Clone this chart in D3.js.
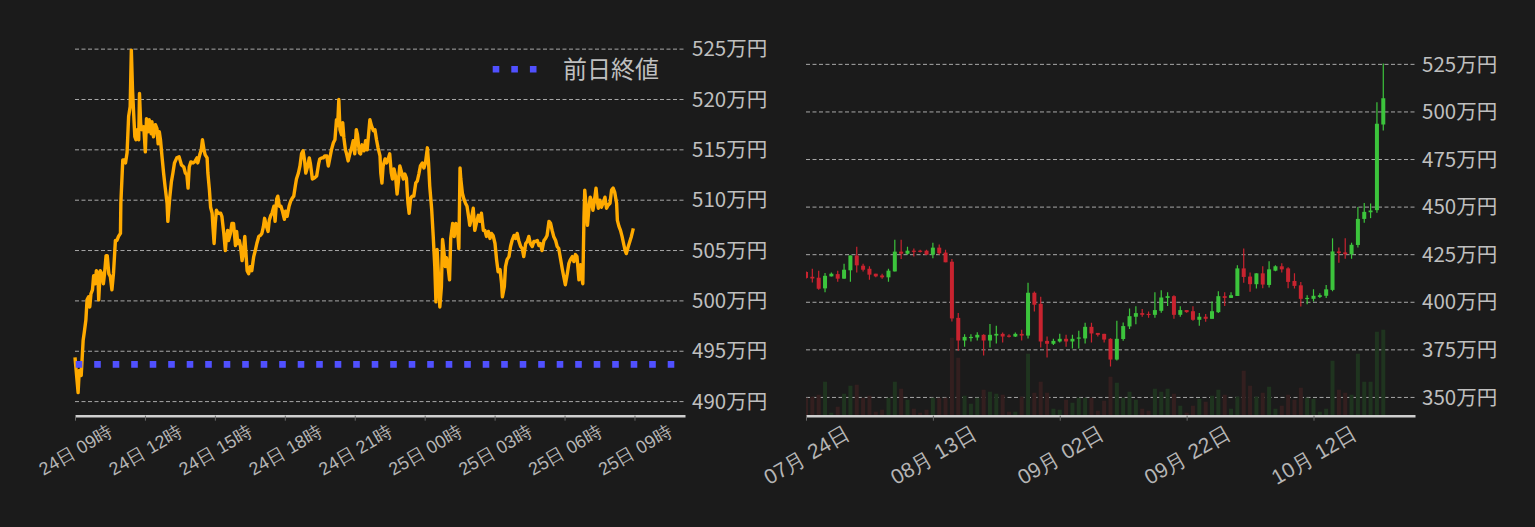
<!DOCTYPE html>
<html><head><meta charset="utf-8">
<script src="https://cdn.jsdelivr.net/npm/d3@7"></script>
<style>
html,body{margin:0;padding:0;background:#1b1b1b;}
svg{display:block;font-family:"Noto Sans CJK JP","Noto Sans",sans-serif;}
</style></head>
<body><svg id="c" width="1535" height="527"></svg>
<script>
// ---------- Left chart data (minutes after 24日 09:00, price in 万円) ----------
const lineMinutes = [0,8,11,16,21,24,28,31,35,38,41,45,48,52,55,59,61,65,69,73,76,80,83,87,91,95,99,104,108,112,117,118,123,127,130,134,138,142,145,148,151,154,157,160,164,166,169,172,177,181,184,188,191,196,198,202,207,211,214,217,220,224,228,232,237,239,244,248,252,256,262,268,274,280,284,288,291,294,298,304,308,314,316,321,325,328,332,335,340,342,346,349,353,355,358,361,364,368,371,375,378,383,387,389,393,395,400,404,408,413,416,419,423,426,430,433,437,440,443,447,451,455,460,464,468,473,477,481,485,488,492,497,500,504,
507,512,515,519,522,526,530,534,539,542,546,551,555,559,563,567,570,575,579,583,587,591,594,599,603,606,611,616,622,627,630,635,639,643,648,652,656,660,665,669,673,676,679,682,686,689,692,696,699,703,708,712,716,720,724,727,732,735,739,744,748,752,756,759,763,768,772,776,780,785,787,790,793,798,802,806,810,814,817,821,825,829,833,836,841,845,849,853,857,860,864,868,872,877,881,885,889,894,898,902,907,910,913,918,922,926,929,932,936,939,943,946,949,953,956,961,964,967,972,976,980,984,988,991,993,997,1001,1005,1009,1014,
1016,1021,1025,1029,1033,1038,1042,1046,1051,1055,1059,1064,1068,1072,1076,1081,1085,1089,1094,1098,1100,1105,1108,1112,1117,1121,1125,1130,1134,1138,1142,1147,1151,1155,1160,1164,1168,1172,1177,1181,1185,1190,1194,1198,1202,1207,1211,1215,1220,1224,1228,1232,1237,1241,1245,1250,1254,1258,1262,1267,1271,1275,1280,1284,1288,1292,1297,1301,1304,1307,1310,1312,1316,1319,1323,1326,1329,1333,1336,1341,1344,1347,1351,1355,1359,1364,1368,1372,1377,1381,1385,1389,1394,1396,1400,1404,1408,1413,1416,1419,1424,1428,1432,1437];
const lineValues = [494.4,490.9,493.1,492.6,496.1,496.9,498.1,500.1,500.4,499.4,500.7,501.1,502.5,501.7,503.0,502.7,500.1,503.0,502.7,501.7,502.7,504.5,504.5,502.7,502.4,501.1,502.7,506.0,506.0,506.4,506.7,509.7,514.0,514.0,513.7,514.7,518.3,519.3,524.9,521.0,518.6,516.3,516.0,517.0,516.0,520.6,517.6,517.0,517.3,514.8,518.1,516.8,518.0,516.6,517.8,516.3,517.5,517.1,515.6,516.8,516.0,514.3,512.7,511.3,509.7,507.9,510.3,511.8,512.7,513.7,514.2,514.3,513.5,513.3,512.7,512.5,511.2,513.3,513.8,513.7,513.8,514.2,513.7,514.5,515.0,516.0,515.0,514.5,514.2,512.7,511.0,509.3,508.7,507.4,505.7,507.7,509.0,508.7,508.7,508.7,508.4,506.7,505.0,506.0,507.0,506.0,506.7,507.7,507.7,505.5,506.9,505.7,506.0,505.4,504.0,504.7,506.4,504.7,503.0,502.7,503.4,503.0,504.4,505.0,505.7,506.4,506.5,506.7,507.4,508.2,507.5,506.9,508.0,508.5,
508.7,509.4,507.9,510.1,510.4,509.4,509.4,508.9,508.1,508.9,508.4,509.4,509.9,510.2,510.4,511.4,512.1,512.7,513.4,514.6,514.9,513.9,512.7,513.4,514.2,513.6,512.1,512.2,512.4,513.6,514.1,514.2,514.2,514.4,514.4,513.4,514.2,515.0,515.7,516.0,518.0,517.4,520.0,517.0,516.5,517.7,516.2,515.0,514.6,513.9,514.7,515.2,515.9,514.6,517.0,516.5,514.7,514.6,515.5,514.9,515.9,515.0,516.7,518.0,517.4,516.9,517.0,516.0,515.2,514.4,512.7,511.7,513.4,514.1,513.7,514.1,514.6,512.7,512.1,513.1,512.4,510.6,512.1,513.4,512.7,512.1,512.6,512.2,509.7,508.7,510.2,510.4,510.4,511.7,511.9,512.6,513.4,513.7,513.2,513.7,515.2,513.7,511.4,509.1,506.4,503.4,499.9,505.1,502.1,499.4,501.4,506.1,505.1,503.4,504.3,503.1,502.1,506.2,507.7,506.4,507.7,507.4,505.2,513.2,512.1,510.7,510.1,509.7,509.4,508.1,
507.5,508.3,509.2,507.0,507.7,508.5,507.9,508.7,507.0,507.0,506.4,506.9,506.2,506.7,506.5,505.7,504.1,502.9,503.1,501.7,500.4,501.4,503.4,504.1,504.4,505.4,506.0,506.5,506.2,506.7,506.0,505.4,505.2,504.4,505.7,505.9,506.4,505.7,505.4,505.9,505.9,506.0,505.5,505.7,505.0,506.0,506.2,506.5,507.9,507.7,507.0,506.4,506.0,505.4,505.2,504.1,503.2,502.4,501.6,502.7,503.7,504.1,504.4,503.9,504.6,504.4,502.1,503.6,502.4,501.7,508.3,511.0,509.2,507.5,509.3,510.3,510.0,509.0,509.7,511.2,510.0,509.2,510.0,509.3,509.7,510.3,509.2,509.5,509.7,511.0,511.2,510.8,509.7,508.0,507.4,507.0,506.4,505.5,505.0,504.7,505.4,505.9,506.4,507.2];
const prevClose = 493.7;
const leftYTicks = [490,495,500,505,510,515,520,525];
const legendLabel = "前日終値";

// ---------- Right chart data (daily candles, 万円) ----------
const candleFirstDay = "2023-07-24";
const candleLastDay  = "2023-10-23";
const opens  = [415.9,413.4,412.9,407.3,413.6,414.8,412.4,416.8,424.6,419.2,417.6,415.0,414.1,413.1,416.2,426.6,425.5,427.1,427.1,427.1,425.0,428.7,426.1,421.3,391.8,379.9,381.5,381.5,382.9,379.9,382.5,383.4,382.5,382.0,383.4,382.5,405.0,399.2,379.7,378.2,379.4,380.8,379.4,381.1,381.0,387.1,383.9,383.4,380.8,369.9,380.7,387.3,392.4,394.3,393.9,393.4,395.5,402.3,403.2,393.4,395.9,395.3,390.8,392.4,391.3,394.8,403.2,402.3,403.3,417.8,413.5,409.5,415.2,409.1,416.6,418.9,417.8,411.2,408.9,401.8,401.8,402.8,403.4,406.5,426.7,426.2,425.2,430.1,443.8,447.3,448.4,493.4];
const highs  = [416.3,417.6,416.6,415.4,415.7,416.6,420.3,424.6,429.2,420.3,418.9,415.0,415.0,417.6,432.9,432.9,429.2,428.2,427.6,427.6,431.3,430.3,427.6,422.7,394.3,383.2,383.2,384.3,383.2,388.6,387.6,384.1,383.2,384.1,385.5,410.3,405.7,402.9,382.0,380.8,383.4,382.9,382.9,385.0,389.2,389.2,383.9,383.4,381.1,390.3,389.4,396.7,397.9,396.4,395.2,405.3,406.3,405.3,403.7,397.9,395.9,397.9,394.3,393.8,400.4,405.8,405.3,405.3,419.4,428.3,415.6,415.2,418.9,421.5,419.4,420.5,418.4,415.2,410.7,403.7,406.8,404.8,409.1,433.6,428.8,433.6,431.3,450.1,452.2,451.9,505.1,525.5];
const lows   = [412.4,410.4,406.6,405.2,413.6,410.8,412.4,410.8,415.7,416.2,411.8,413.1,412.4,410.8,416.2,422.7,425.0,424.1,426.2,425.0,423.1,425.0,421.0,389.9,374.5,376.6,379.4,379.9,372.0,376.2,378.3,378.9,381.5,381.7,379.9,381.0,395.2,376.2,371.0,377.6,378.9,376.6,375.7,375.7,378.3,378.9,382.0,378.9,366.2,369.4,379.8,385.9,388.5,392.4,391.8,391.8,394.5,398.1,391.3,392.4,394.5,390.3,387.6,389.7,391.3,394.3,398.1,402.3,403.3,410.3,405.5,407.2,407.4,407.7,416.3,415.6,407.4,407.2,397.8,399.0,400.4,402.3,402.3,405.8,420.8,422.9,422.9,428.8,441.8,444.2,447.0,490.3];
const closes = [412.8,412.5,407.1,413.9,415.0,412.4,417.1,424.6,419.4,417.1,414.5,413.6,413.1,416.6,426.6,425.5,427.1,426.6,426.6,425.0,428.7,425.7,421.0,391.5,379.9,381.8,381.8,382.9,379.9,382.9,383.4,382.0,382.0,383.4,382.5,405.0,398.7,379.4,378.2,379.7,380.8,379.4,380.8,381.5,387.1,383.6,382.9,380.4,369.9,380.8,387.5,392.7,394.3,393.4,393.4,395.9,402.5,403.2,393.4,395.9,394.8,390.8,392.4,391.3,395.3,403.2,402.3,403.7,417.8,413.3,409.5,415.2,409.3,417.3,418.9,417.3,410.7,408.6,401.8,402.3,403.4,403.7,406.8,426.7,425.9,425.2,430.2,443.8,447.5,448.2,493.8,507.2];
const volumes = [18,19,21,34,3,9,22,30,31,18,20,4,6,18,34,27,16,7,3,6,18,18,18,78,58,20,12,18,26,24,22,21,4,4,19,62,23,34,23,7,6,16,13,18,18,18,5,15,39,33,18,24,16,7,5,27,24,27,22,10,3,10,17,14,20,26,21,7,19,45,30,19,23,29,7,10,21,16,28,18,17,4,7,55,26,23,21,62,34,34,84,86];
const rightYTicks = [350,375,400,425,450,475,500,525];
const rightXTicks = ["2023-07-24","2023-08-13","2023-09-02","2023-09-22","2023-10-12"];

// ---------- drawing ----------
const svg = d3.select("#c");
const BG = "#1b1b1b", GRID = "#a8a8a8", TXT = "#bfbfbf", AXIS = "#cfcfcf";
svg.append("rect").attr("width",1535).attr("height",527).attr("fill",BG);

const base = Date.UTC(2023,9,24,9,0);
const toDate = m => new Date(base + m*60000);

// Left scales
const xL = d3.scaleUtc().domain([toDate(0), toDate(1570)]).range([75,685]);
const yL = d3.scaleLinear().domain([488.6, 526.9]).range([415.7, 30]);
// Right scales
const parse = d3.utcParse("%Y-%m-%d");
const xR = d3.scaleUtc().domain([parse("2023-07-24"), parse("2023-10-28")]).range([806,1415]);
const yR = d3.scaleLinear().domain([340.4, 537.8]).range([415.7, 40]);
const vR = d3.scaleLinear().domain([0,100]).range([415.7, 315.7]);

function grid(g, ticks, y, x0, x1, fmt){
  g.selectAll("line.grid").data(ticks).join("line")
    .attr("x1",x0).attr("x2",x1).attr("y1",d=>y(d)).attr("y2",d=>y(d))
    .attr("stroke",GRID).attr("stroke-width",1).attr("stroke-dasharray","4,2.5");
  g.selectAll("text.yl").data(ticks).join("text")
    .attr("x",x1+7).attr("y",d=>y(d)).attr("dy","0.35em")
    .attr("fill",TXT).attr("font-size",20.5).text(fmt);
}
const fmtY = d => d + "万円";

// ----- Left chart -----
const gL = svg.append("g");
grid(gL, leftYTicks, yL, 75, 685, fmtY);

const lineData = lineMinutes.map((m,i)=>({t:toDate(m), v:lineValues[i]}));
gL.append("path").datum(lineData)
  .attr("d", d3.line().x(d=>xL(d.t)).y(d=>yL(d.v)))
  .attr("fill","none").attr("stroke","#FFAA00").attr("stroke-width",3.4)
  .attr("stroke-linejoin","round");

gL.append("line").attr("x1",75.7).attr("x2",685)
  .attr("y1",yL(prevClose)).attr("y2",yL(prevClose))
  .attr("stroke","#5050ff").attr("stroke-width",6.6).attr("stroke-dasharray","6.6,11.9");

// legend
gL.append("line").attr("x1",492.7).attr("x2",537).attr("y1",69.3).attr("y2",69.3)
  .attr("stroke","#5050ff").attr("stroke-width",6.6).attr("stroke-dasharray","6.6,12");
gL.append("text").attr("x",563).attr("y",69.3).attr("dy","0.35em")
  .attr("fill",TXT).attr("font-size",24).text(legendLabel);

// axis
const axL = gL.append("g").attr("transform","translate(0,415.7)")
  .call(d3.axisBottom(xL).ticks(d3.utcHour.every(3)).tickSize(5).tickSizeOuter(0).tickFormat(d3.utcFormat("%d日 %H時")));
axL.select(".domain").attr("stroke",AXIS).attr("stroke-width",2.5);
axL.selectAll(".tick line").attr("stroke","#666");
axL.selectAll(".tick text").attr("fill","#b5b5b5").attr("font-size",18)
  .attr("text-anchor","middle").attr("dy","0.35em").attr("y",0)
  .attr("transform","translate(0,34.5) rotate(-30)");

// ----- Right chart -----
const gR = svg.append("g");
grid(gR, rightYTicks, yR, 806, 1415, fmtY);
svg.append("clipPath").attr("id","clipR").append("rect")
  .attr("x",806).attr("y",0).attr("width",609).attr("height",415.7);

const days = d3.utcDay.range(parse(candleFirstDay), d3.utcDay.offset(parse(candleLastDay),1));
const candles = days.map((d,i)=>({d, o:opens[i], h:highs[i], l:lows[i], c:closes[i], v:volumes[i]}));
const cg = gR.append("g").attr("clip-path","url(#clipR)");
const UP="#3cc43c", DN="#c8232f", UPV="#1f341f", DNV="#331f1f";
cg.selectAll("rect.vol").data(candles).join("rect")
  .attr("x",d=>xR(d.d)-2).attr("width",4)
  .attr("y",d=>vR(d.v)).attr("height",d=>vR(0)-vR(d.v))
  .attr("fill",d=>d.c>=d.o?UPV:DNV);
cg.selectAll("line.wick").data(candles).join("line")
  .attr("x1",d=>xR(d.d)).attr("x2",d=>xR(d.d))
  .attr("y1",d=>yR(d.h)).attr("y2",d=>yR(d.l))
  .attr("stroke",d=>d.c>=d.o?UP:DN).attr("stroke-width",1.2);
cg.selectAll("rect.body").data(candles).join("rect")
  .attr("x",d=>xR(d.d)-2).attr("width",4)
  .attr("y",d=>yR(Math.max(d.o,d.c)))
  .attr("height",d=>Math.max(1.2, Math.abs(yR(d.o)-yR(d.c))))
  .attr("fill",d=>d.c>=d.o?UP:DN);

const axR = gR.append("g").attr("transform","translate(0,415.7)")
  .call(d3.axisBottom(xR).tickValues(rightXTicks.map(parse)).tickSize(5).tickSizeOuter(0).tickFormat(d3.utcFormat("%m月 %d日")));
axR.select(".domain").attr("stroke",AXIS).attr("stroke-width",2.5);
axR.selectAll(".tick line").attr("stroke","#666");
axR.selectAll(".tick text").attr("fill","#b5b5b5").attr("font-size",21)
  .attr("text-anchor","middle").attr("dy","0.35em").attr("y",0)
  .attr("transform","translate(0,39.5) rotate(-30)");
</script></body></html>
